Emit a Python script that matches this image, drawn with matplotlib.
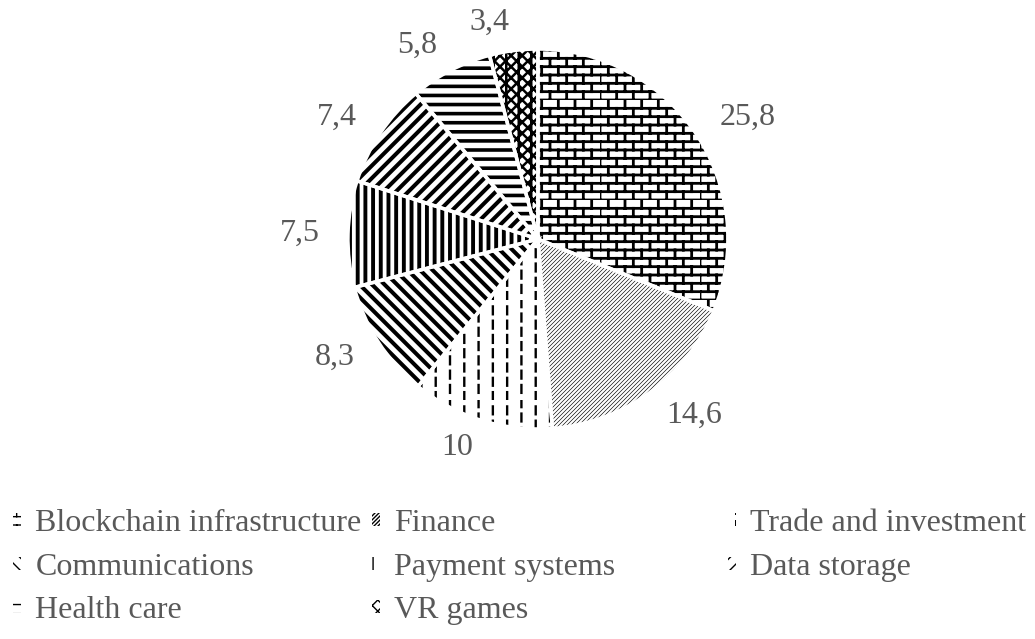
import warnings
warnings.filterwarnings('ignore')

import numpy as np
import matplotlib
matplotlib.use('Agg')
import matplotlib.pyplot as plt
from matplotlib import hatch as mhatch
from matplotlib.path import Path

# ── data ──────────────────────────────────────────────────────────────────────
categories = ['Blockchain infrastructure', 'Finance', 'Trade and investment',
              'Communications', 'Payment systems', 'Data storage',
              'Health care', 'VR games']
shares = [25.8, 14.6, 10, 8.3, 7.5, 7.4, 5.8, 3.4]
share_labels = [f'{v:g}'.replace('.', ',') for v in shares]

TXT = '#595959'
FONT = 'Liberation Serif'


# ── custom hatches ────────────────────────────────────────────────────────────
class BrickHatch(mhatch.HatchPatternBase):
    """'B' -> brick wall"""
    def __init__(self, hatch, density):
        n = hatch.count('B')
        self.rows = 12 * n
        self.cols = 6 * n
        self.num_vertices = (self.rows + self.rows * self.cols) * 2 if n else 0

    def set_vertices_and_codes(self, vertices, codes):
        h, w = 1.0 / self.rows, 1.0 / self.cols
        pts = []
        for i in range(self.rows):
            y0 = i * h
            pts += [(0.0, y0), (1.0, y0)]
            off = (i % 2) * w / 2
            for k in range(self.cols):
                x = k * w + off
                pts += [(x, y0), (x, y0 + h)]
        vertices[:] = pts
        codes[0::2] = Path.MOVETO
        codes[1::2] = Path.LINETO


class DashHatch(mhatch.HatchPatternBase):
    """'D' -> staggered short vertical dashes"""
    def __init__(self, hatch, density):
        n = hatch.count('D')
        self.cols = 7 * n
        self.dashes = 7 * n
        self.num_vertices = self.cols * self.dashes * 2 if n else 0

    def set_vertices_and_codes(self, vertices, codes):
        step = 1.0 / self.dashes
        pts = []
        for c in range(self.cols):
            x = (c + 0.5) / self.cols
            off = (c % 2) * step / 2
            for d in range(self.dashes):
                y0 = d * step + off
                pts += [(x, y0), (x, y0 + step * 0.55)]
        vertices[:] = pts
        codes[0::2] = Path.MOVETO
        codes[1::2] = Path.LINETO


# char -> (direction, lines per hatch cell)
LINE_KINDS = {'a': ('nw', 8), 'b': ('ne', 8), 'c': ('v', 13),
              'd': ('h', 11), 'f': ('ne', 25), 'g': ('v', 8)}


class LineHatch(mhatch.HatchPatternBase):
    def __init__(self, hatch, density):
        self.sets = [LINE_KINDS[ch] for ch in hatch if ch in LINE_KINDS]
        self.num_vertices = 0
        for kind, n in self.sets:
            self.num_vertices += 2 * (2 * n + 1 if kind in ('ne', 'nw') else n)

    def set_vertices_and_codes(self, vertices, codes):
        pts = []
        for kind, n in self.sets:
            if kind == 'v':
                for i in range(n):
                    x = (i + 0.5) / n
                    pts += [(x, 0.0), (x, 1.0)]
            elif kind == 'h':
                for i in range(n):
                    y = (i + 0.5) / n
                    pts += [(0.0, y), (1.0, y)]
            elif kind == 'ne':
                for k in range(-n, n + 1):
                    c = k / n
                    pts += [(c, 0.0), (c + 1.0, 1.0)]
            else:
                for k in range(0, 2 * n + 1):
                    c = k / n
                    pts += [(c, 0.0), (c - 1.0, 1.0)]
        vertices[:] = pts
        codes[0::2] = Path.MOVETO
        codes[1::2] = Path.LINETO


mhatch._hatch_types.extend([BrickHatch, DashHatch, LineHatch])

HATCHES = ['B', 'f', 'D', 'a', 'c', 'b', 'd', 'gxxx']
HATCH_LW = [2.0, 0.45, 1.7, 2.9, 2.8, 2.9, 2.6, 1.8]

plt.rcParams.update({'font.family': FONT})

fig = plt.figure(figsize=(10.35, 6.39), dpi=100, facecolor='white')
ax = fig.add_axes([0.3362, 0.3286, 0.3671, 0.5947])

wedges, texts = ax.pie(shares, labels=share_labels, startangle=90,
                       counterclock=False, labeldistance=1.15,
                       colors=['white'] * len(shares),
                       wedgeprops=dict(edgecolor='black', linewidth=0),
                       textprops=dict(color=TXT, fontsize=23, family=FONT))
for w, h, lw in zip(wedges, HATCHES, HATCH_LW):
    w.set_hatch(h)
    if hasattr(w, 'set_hatch_linewidth'):
        w.set_hatch_linewidth(lw)

# white separators between wedges
ax.pie(shares, startangle=90, counterclock=False,
       wedgeprops=dict(fill=False, edgecolor='white', linewidth=2.5))
ax.set_xlim(-1, 1)
ax.set_ylim(-1, 1)
ax.set_aspect('equal')

# ── legend: three fixed-position columns, filled row by row ──────────────────
col_x = [13 / 1035, 372 / 1035, 728 / 1035]
for c, x in enumerate(col_x):
    idx = list(range(c, len(categories), 3))
    fig.legend([wedges[i] for i in idx], [categories[i] for i in idx],
               loc='upper left', bbox_to_anchor=(x, 0.203), ncol=1,
               frameon=False, handlelength=0.25, handleheight=0.25,
               handletextpad=0.45, labelspacing=0.45,
               borderaxespad=0, borderpad=0, labelcolor=TXT,
               prop=dict(family=FONT, size=23))

fig.savefig('out.png', dpi=100, facecolor='white')
